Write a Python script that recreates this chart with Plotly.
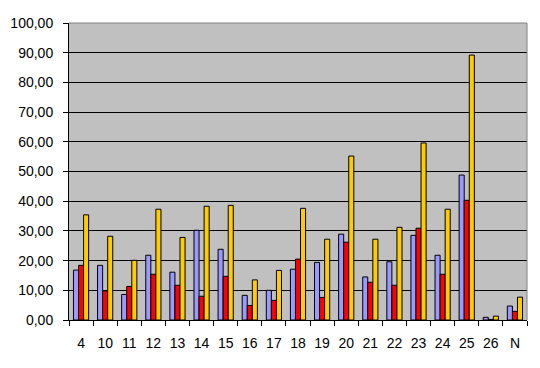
import plotly.graph_objects as go

categories = ["4", "10", "11", "12", "13", "14", "15", "16", "17", "18",
              "19", "20", "21", "22", "23", "24", "25", "26", "N"]
series_blue = [16.8, 18.4, 8.6, 21.8, 16.1, 30.2, 23.8, 8.3, 10.0, 17.1,
               19.4, 28.9, 14.5, 19.6, 28.5, 21.8, 48.8, 0.9, 4.7]
series_red = [18.4, 9.8, 11.3, 15.4, 11.7, 8.0, 14.7, 4.9, 6.6, 20.5,
              7.6, 26.2, 12.7, 11.7, 30.9, 15.4, 40.3, 0.2, 2.9]
series_yellow = [35.4, 28.2, 20.1, 37.3, 27.8, 38.3, 38.6, 13.5, 16.7, 37.6,
                 27.2, 55.2, 27.2, 31.2, 59.6, 37.3, 89.2, 1.3, 7.7]
y_ticks = [0, 10, 20, 30, 40, 50, 60, 70, 80, 90, 100]

fig = go.Figure()
for vals, col in [(series_blue, "#9999FF"), (series_red, "#FF0000"), (series_yellow, "#FFCC00")]:
    fig.add_trace(go.Bar(x=categories, y=vals, marker=dict(color=col, line=dict(color="black", width=1))))

font = dict(family="Liberation Sans, Arial, sans-serif", size=14, color="black")
fig.update_layout(
    width=540, height=368,
    margin=dict(l=69, r=13, t=23, b=48),
    paper_bgcolor="white", plot_bgcolor="#C0C0C0",
    barmode="group", bargap=0.37, bargroupgap=0,
    showlegend=False, separators=",.",
    font=font,
)
fig.update_xaxes(
    type="category", showline=True, linecolor="black", linewidth=1,
    ticks="outside", tickson="boundaries", ticklen=5, tickcolor="black",
    showgrid=False, tickfont=font, tickangle=0, ticklabelstandoff=10,
    automargin=False,
)
fig.update_yaxes(
    range=[0, 100], tickvals=y_ticks, tickformat=".2f",
    showline=True, linecolor="black", linewidth=1,
    ticks="outside", ticklen=5, tickcolor="black",
    showgrid=True, gridcolor="black", gridwidth=1, zeroline=False,
    tickfont=font, ticklabelstandoff=7, automargin=False,
)
fig.add_shape(type="line", xref="paper", yref="paper", x0=0, x1=1, y0=1, y1=1,
              line=dict(color="#808080", width=1), layer="above")
fig.add_shape(type="line", xref="paper", yref="paper", x0=1, x1=1, y0=0, y1=1,
              line=dict(color="#808080", width=1), layer="above")
fig.write_html("out.html")
